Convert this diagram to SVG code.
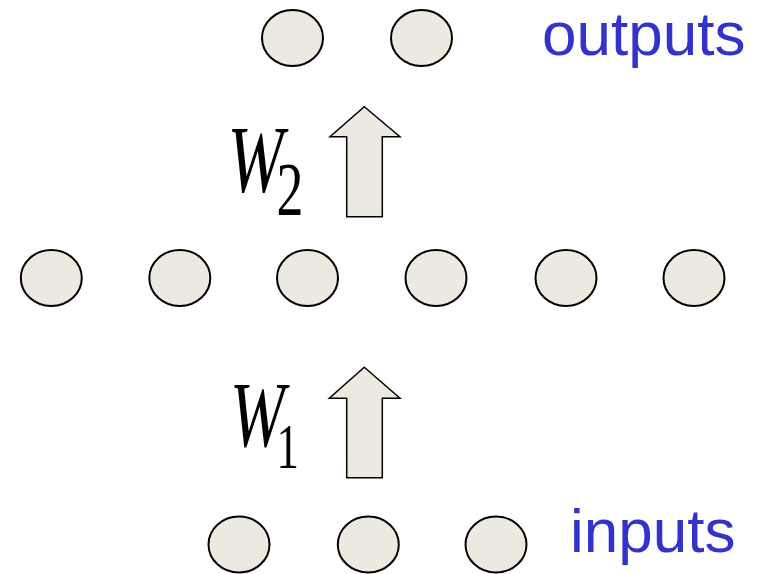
<svg xmlns="http://www.w3.org/2000/svg" width="763" height="574" viewBox="0 0 763 574">
<style>
.n{fill:#ECEAE0;stroke:#000;stroke-width:2}
.a{fill:#ECEAE0;stroke:#000;stroke-width:1.5;stroke-linejoin:miter}
.lbl{font-family:"Liberation Sans",Arial,sans-serif;font-size:62px;fill:#3333CC}
.w{font-family:"Liberation Serif","Times New Roman",serif;fill:#000}
.w .i{font-style:italic}
</style>
<rect width="763" height="574" fill="#fff"/>
<g id="out1"><ellipse class="n" cx="292.5" cy="38" rx="30.5" ry="28"/></g>
<g id="out2"><ellipse class="n" cx="421.5" cy="38" rx="30.5" ry="28"/></g>
<g id="hid1"><ellipse class="n" cx="51.3" cy="278" rx="30.5" ry="28"/></g>
<g id="hid2"><ellipse class="n" cx="179.8" cy="278" rx="30.5" ry="28"/></g>
<g id="hid3"><ellipse class="n" cx="307.5" cy="278" rx="30.5" ry="28"/></g>
<g id="hid4"><ellipse class="n" cx="436" cy="278" rx="30.5" ry="28"/></g>
<g id="hid5"><ellipse class="n" cx="566" cy="278" rx="30.5" ry="28"/></g>
<g id="hid6"><ellipse class="n" cx="694" cy="278" rx="30.5" ry="28"/></g>
<g id="in1"><ellipse class="n" cx="239" cy="544.5" rx="30.5" ry="28"/></g>
<g id="in2"><ellipse class="n" cx="368.3" cy="544.5" rx="30.5" ry="28"/></g>
<g id="in3"><ellipse class="n" cx="496" cy="544.5" rx="30.5" ry="28"/></g>
<g id="connectors">
<polygon class="a" points="364.3,106.7 400,136.7 382.3,136.7 382.3,216.7 346.7,216.7 346.7,136.7 330,136.7"/>
<polygon class="a" points="364.3,367.3 400,398.3 382.3,398.3 382.3,477.7 346.7,477.7 346.7,398.3 329.3,398.3"/>
</g>
<g id="W2">
<text class="w" transform="translate(227.5,191.7) scale(0.7,1)"><tspan class="i" font-size="96">W</tspan><tspan font-size="77" dx="-10" dy="23.3">2</tspan></text>
</g>
<g id="W1">
<text class="w" transform="translate(230,446) scale(0.7,1)"><tspan class="i" font-size="94">W</tspan><tspan font-size="64" dx="-12" dy="22.3">1</tspan></text>
</g>
<g id="outputs"><text class="lbl" x="542" y="55">outputs</text></g>
<g id="inputs"><text class="lbl" x="570" y="551.7">inputs</text></g>
</svg>
